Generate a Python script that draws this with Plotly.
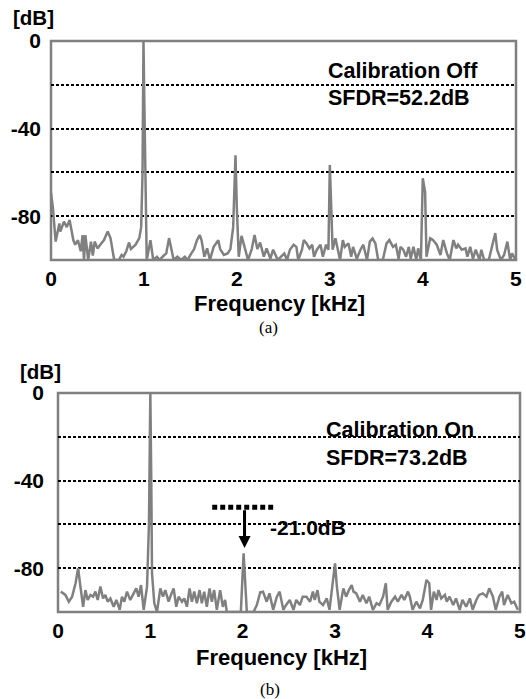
import plotly.graph_objects as go

W, H = 526, 699

# ---------------- data ----------------
FREQ_A = [0.00, 0.02, 0.05, 0.09, 0.10, 0.14, 0.17, 0.20, 0.24, 0.26, 0.29, 0.32, 0.34, 0.355, 0.37,
          0.40, 0.43, 0.45, 0.47, 0.50, 0.53, 0.57, 0.61, 0.64, 0.68, 0.73, 0.76, 0.78, 0.81, 0.84,
          0.86, 0.91, 0.95, 0.97, 0.985, 0.995, 1.005, 1.02, 1.03, 1.07, 1.10, 1.14, 1.17, 1.20, 1.24,
          1.27, 1.29, 1.32, 1.36, 1.40, 1.44, 1.47, 1.50, 1.54, 1.57, 1.60, 1.62, 1.65, 1.68, 1.71,
          1.75, 1.80, 1.82, 1.86, 1.90, 1.93, 1.96, 1.985, 2.00, 2.02, 2.05, 2.09, 2.12, 2.16, 2.19,
          2.22, 2.25, 2.29, 2.32, 2.36, 2.39, 2.44, 2.48, 2.51, 2.54, 2.57, 2.61, 2.64, 2.66, 2.70,
          2.72, 2.75, 2.78, 2.81, 2.83, 2.86, 2.90, 2.925, 2.96, 2.985, 3.00, 3.03, 3.06, 3.08, 3.11,
          3.14, 3.16, 3.20, 3.23, 3.25, 3.29, 3.33, 3.36, 3.40, 3.43, 3.46, 3.49, 3.52, 3.57, 3.61,
          3.64, 3.68, 3.71, 3.74, 3.76, 3.79, 3.82, 3.85, 3.87, 3.90, 3.93, 3.95, 3.98, 4.00, 4.025,
          4.04, 4.08, 4.11, 4.15, 4.19, 4.22, 4.26, 4.29, 4.33, 4.36, 4.38, 4.42, 4.46, 4.48, 4.51,
          4.54, 4.57, 4.61, 4.63, 4.66, 4.71, 4.74, 4.78, 4.80, 4.84, 4.875, 4.91, 4.94, 4.96, 5.00]
DB_A = [-69.4, -76.0, -91.6, -83.3, -87.0, -82.5, -85.0, -81.7, -90.9, -93.0, -91.0, -96.0, -88.6, -100.0, -88.6,
        -100.0, -91.6, -98.0, -91.6, -94.7, -93.0, -90.9, -87.0, -90.0, -100.0, -100.0, -97.7, -98.5, -96.0, -92.0,
        -95.0, -93.0, -90.0, -85.0, -60.0, 0.0, -30.0, -85.0, -100.0, -91.0, -100.0, -98.5, -100.0, -98.5, -97.0,
        -90.0, -94.0, -100.0, -98.5, -100.0, -98.5, -100.0, -97.7, -95.0, -91.0, -88.6, -91.0, -98.5, -94.7, -100.0,
        -94.0, -91.0, -95.0, -97.7, -97.0, -95.0, -85.0, -52.2, -77.0, -98.5, -89.0, -95.0, -100.0, -95.0, -88.6,
        -95.0, -92.0, -98.5, -94.7, -99.4, -95.3, -100.0, -98.5, -97.0, -100.0, -95.3, -93.0, -94.0, -100.0, -95.3,
        -90.9, -92.4, -94.7, -93.0, -98.5, -95.3, -93.0, -98.5, -93.0, -95.3, -56.6, -95.3, -90.1, -94.0, -100.0,
        -90.9, -94.0, -92.4, -98.5, -94.0, -99.4, -95.3, -93.0, -100.0, -91.6, -90.1, -92.4, -100.0, -100.0, -92.4,
        -90.9, -94.0, -93.0, -99.4, -94.0, -95.3, -98.5, -94.0, -99.4, -94.0, -100.0, -94.7, -100.0, -62.7, -69.0,
        -98.5, -90.1, -90.9, -93.0, -97.7, -90.9, -97.0, -100.0, -90.9, -94.7, -93.0, -95.3, -94.7, -98.5, -94.0,
        -99.4, -95.3, -100.0, -95.3, -100.0, -100.0, -94.7, -87.7, -95.3, -100.0, -97.7, -91.6, -100.0, -97.0, -100.0]

FREQ_B = [0.03, 0.08, 0.117, 0.153, 0.19, 0.218, 0.243, 0.272, 0.297, 0.322, 0.351, 0.38, 0.405, 0.43, 0.459,
          0.488, 0.513, 0.538, 0.567, 0.603, 0.632, 0.668, 0.693, 0.718, 0.747, 0.783, 0.819, 0.848, 0.873, 0.899,
          0.928, 0.964, 0.985, 1.00, 1.01, 1.018, 1.043, 1.072, 1.108, 1.137, 1.162, 1.198, 1.223, 1.252, 1.281,
          1.306, 1.342, 1.367, 1.396, 1.425, 1.45, 1.475, 1.504, 1.533, 1.558, 1.583, 1.612, 1.641, 1.666, 1.691,
          1.72, 1.756, 1.785, 1.81, 1.828, 1.98, 2.01, 2.045, 2.117, 2.153, 2.19, 2.22, 2.26, 2.29, 2.33,
          2.37, 2.40, 2.44, 2.47, 2.51, 2.55, 2.58, 2.62, 2.65, 2.69, 2.73, 2.76, 2.78, 2.81, 2.83,
          2.87, 2.91, 2.94, 2.97, 3.00, 3.02, 3.05, 3.09, 3.12, 3.15, 3.18, 3.20, 3.23, 3.27, 3.30,
          3.34, 3.37, 3.41, 3.45, 3.48, 3.52, 3.55, 3.57, 3.61, 3.65, 3.68, 3.72, 3.75, 3.79, 3.81,
          3.84, 3.88, 3.92, 3.95, 3.99, 4.02, 4.04, 4.07, 4.10, 4.12, 4.15, 4.19, 4.21, 4.24, 4.28,
          4.31, 4.35, 4.38, 4.42, 4.46, 4.49, 4.53, 4.56, 4.60, 4.64, 4.67, 4.71, 4.74, 4.78, 4.81,
          4.83, 4.87, 4.91, 4.94, 4.98]
DB_B = [-90.7, -92.2, -95.3, -93.0, -86.9, -80.0, -88.4, -97.6, -90.0, -94.5, -92.2, -93.0, -90.7, -94.5, -88.4,
        -93.8, -92.2, -95.3, -93.8, -97.6, -94.5, -99.0, -93.0, -95.3, -90.7, -94.5, -91.5, -89.2, -93.0, -87.7,
        -99.0, -88.4, -60.0, 0.0, -40.0, -82.3, -96.0, -100.0, -89.2, -93.0, -90.0, -95.3, -92.2, -89.2, -97.6,
        -93.0, -95.3, -93.8, -97.6, -89.2, -95.3, -90.7, -96.0, -90.0, -96.0, -90.7, -97.6, -89.2, -95.3, -90.0,
        -99.0, -90.0, -97.6, -94.5, -100.0, -100.0, -73.2, -100.0, -100.0, -96.8, -91.0, -90.7, -95.3, -91.5, -99.0,
        -93.0, -90.7, -99.0, -96.8, -94.5, -99.0, -94.5, -96.8, -93.0, -93.0, -95.3, -90.7, -94.5, -90.0, -95.3,
        -96.8, -93.8, -99.0, -88.4, -77.8, -88.4, -99.0, -89.2, -93.0, -90.0, -87.7, -90.7, -91.5, -95.3, -92.2,
        -96.0, -93.0, -99.0, -96.0, -96.8, -93.0, -86.9, -99.0, -95.3, -93.0, -95.3, -92.2, -94.5, -90.7, -93.0,
        -99.0, -95.3, -98.3, -94.5, -85.4, -86.9, -99.0, -90.7, -94.5, -90.0, -93.8, -92.2, -95.3, -93.0, -96.8,
        -93.8, -99.0, -94.5, -97.6, -93.8, -99.0, -94.5, -92.2, -91.5, -93.0, -89.2, -93.0, -99.0, -93.0, -90.7,
        -96.8, -92.2, -96.0, -95.3, -99.0]

X_TICKS = [0, 1, 2, 3, 4, 5]
Y_GRID = [0, -20, -40, -60, -80, -100]
Y_TEXT = ["0", "", "-40", "", "-80", ""]
SFDR_OFF = 52.2
SFDR_ON = 73.2
IMPROVEMENT = 21.0

# ---------------- styling ----------------
GRAY = "#808080"
SANS = "Liberation Sans, Arial, sans-serif"
TITLEF = dict(family=SANS, size=22, color="black", weight="bold")
UNITF = dict(family=SANS, size=20.5, color="black", weight="bold")
LABELF = dict(family=SANS, size=21.5, color="black", weight="bold")
TICKF = dict(family=SANS, size=21, color="black", weight="bold")
SERIF = dict(family="Liberation Serif, Times New Roman, serif", size=17, color="black")


def px(x):
    return x / W


def py(y):
    return 1 - y / H


fig = go.Figure()
fig.add_trace(go.Scatter(x=FREQ_A, y=DB_A, mode="lines", line=dict(color=GRAY, width=2.5),
                         xaxis="x", yaxis="y", showlegend=False, hoverinfo="skip"))
fig.add_trace(go.Scatter(x=FREQ_B, y=DB_B, mode="lines", line=dict(color=GRAY, width=2.5),
                         xaxis="x2", yaxis="y2", showlegend=False, hoverinfo="skip"))


def xax(domain, anchor):
    return dict(domain=domain, range=[0, 5.003], anchor=anchor, tickvals=X_TICKS,
                ticktext=[str(v) for v in X_TICKS], showgrid=False, zeroline=False,
                showline=False, ticks="", tickfont=TICKF, ticklabelstandoff=4, automargin=False)


def yax(domain, anchor, standoff):
    return dict(domain=domain, range=[-100, 0], anchor=anchor, tickvals=Y_GRID, ticktext=Y_TEXT,
                showgrid=True, gridcolor="black", gridwidth=2, griddash="3px,2px",
                zeroline=False, showline=False, ticks="", tickfont=TICKF, ticklabelstandoff=standoff,
                automargin=False)


fig.update_layout(
    width=W, height=H, autosize=False,
    margin=dict(l=0, r=0, t=0, b=0, pad=0),
    paper_bgcolor="white", plot_bgcolor="white",
    xaxis=xax([px(51), px(516)], "y"),
    yaxis=yax([py(260), py(41)], "x", 9),
    xaxis2=xax([px(58), px(520)], "y2"),
    yaxis2=yax([py(612), py(393)], "x2", 13),
)

# plot borders (gray), below the dotted grid lines
for xr, yr in (("x", "y"), ("x2", "y2")):
    fig.add_shape(type="rect", xref=f"{xr} domain", yref=f"{yr} domain", x0=0, x1=1, y0=0, y1=1,
                  line=dict(color=GRAY, width=2.5), layer="below")


def paper_text(text, x, y, font):
    return dict(text=text, x=px(x), y=py(y), xref="paper", yref="paper", xanchor="center",
                yanchor="middle", showarrow=False, font=font)


ann = [
    paper_text("[dB]", 33, 18, UNITF),
    paper_text("[dB]", 40, 371, UNITF),
    paper_text("Frequency [kHz]", 279, 303, TITLEF),
    paper_text("Frequency [kHz]", 281, 657, TITLEF),
    paper_text("(a)", 268, 327, SERIF),
    paper_text("(b)", 270, 689, SERIF),
]
# in-plot labels
ann.append(dict(text="Calibration Off", x=2.96, y=-13.7, xref="x", yref="y", xanchor="left",
                yanchor="middle", showarrow=False, font=LABELF))
ann.append(dict(text=f"SFDR={SFDR_OFF}dB", x=2.96, y=-25.8, xref="x", yref="y", xanchor="left",
                yanchor="middle", showarrow=False, font=LABELF))
ann.append(dict(text="Calibration On", x=2.88, y=-16.7, xref="x2", yref="y2", xanchor="left",
                yanchor="middle", showarrow=False, font=LABELF))
ann.append(dict(text=f"SFDR={SFDR_ON}dB", x=2.88, y=-29.5, xref="x2", yref="y2", xanchor="left",
                yanchor="middle", showarrow=False, font=LABELF))
# improvement arrow
ann.append(dict(text="", x=2.02, y=-SFDR_ON + 2.4, xref="x2", yref="y2",
                ax=2.02, ay=-SFDR_OFF - 0.6, axref="x2", ayref="y2",
                showarrow=True, arrowhead=2, arrowsize=0.8, arrowwidth=3, arrowcolor="black"))
ann.append(dict(text=f"-{IMPROVEMENT:.1f}dB", x=2.27, y=-61.2, xref="x2", yref="y2", xanchor="left",
                yanchor="middle", showarrow=False, font=dict(UNITF, size=21)))
fig.update_layout(annotations=ann)

# thick dotted reference line at the calibration-off spur level
fig.add_shape(type="line", xref="x2", yref="y2", x0=1.67, x1=2.33, y0=-SFDR_OFF, y1=-SFDR_OFF,
              line=dict(color="black", width=5, dash="5px,3px"), layer="above")

fig.write_html("out.html", config={"displayModeBar": False},
               post_script="document.body.style.margin='0px';document.body.style.overflow='hidden';")
